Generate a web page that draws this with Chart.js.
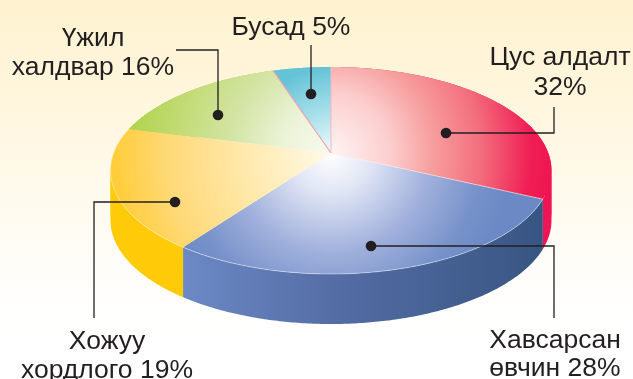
<!DOCTYPE html>
<html>
<head>
<meta charset="utf-8">
<title>Pie</title>
<script src="https://cdn.jsdelivr.net/npm/chart.js@4/dist/chart.umd.min.js"></script>
<style>
  html, body { margin: 0; padding: 0; }
  body { width: 633px; height: 379px; overflow: hidden; background: linear-gradient(#fef2cf 0, #fff6df 110px, #fffdf8 260px, #ffffff 330px); }
  canvas { display: block; }
</style>
</head>
<body>
<canvas id="pie" width="633" height="379"></canvas>
<script>
// --- Data ---
const categories = ['Цус алдалт', 'Хавсарсан өвчин', 'Хожуу хордлого', 'Үжил халдвар', 'Бусад'];
const shares = [32, 28, 19, 16, 5];

// --- Slice styling: [distance from apex in px, colour] ---
const topStops = [
  [[0, '#fff4f4'], [60, '#fccdcd'], [100, '#f7a0a0'], [150, '#f36e7d'], [200, '#f01e55'], [225, '#ee1450']],
  [[0, '#ffffff'], [40, '#e1e6f5'], [100, '#a0b0dc'], [150, '#7792ca'], [180, '#6c89c5']],
  [[0, '#fff9ea'], [60, '#ffeebe'], [163, '#fed978'], [215, '#ffcd3c']],
  [[0, '#f7fbef'], [50, '#ebf3d7'], [100, '#d4e4a5'], [150, '#c3dc78'], [205, '#afd24b']],
  [[0, '#f0fafd'], [40, '#aae1eb'], [86, '#64c3d7']],
];
const wallColors = ['#ef1455', null, '#ffcb08', '#afd24b', '#64c3d7'];

// --- Hand-placed callouts: dot, leader path, text lines ---
const callouts = [
  { dot: [446, 133], path: [[554, 133], [554, 107]], lines: [['Цус алдалт', 560, 65], ['32%', 560, 95]] },
  { dot: [371, 246], path: [[554, 246], [554, 318]], lines: [['Хавсарсан', 555, 348], ['өвчин 28%', 555, 376]] },
  { dot: [175, 202], path: [[94, 202], [94, 318]], lines: [['Хожуу', 107, 349], ['хордлого 19%', 107, 378]] },
  { dot: [218, 115], path: [[218, 50], [176, 50]], lines: [['Үжил', 93, 46], ['халдвар 16%', 93, 75]] },
  { dot: [311, 94], path: [[311, 45]], lines: [['Бусад 5%', 291, 35]] },
];

const squash = 2.13;   // rx / ry of the disc
const tilt = 0.169;    // how far the apex sits above the ellipse centre (in ry)
const depth = 50;      // wall height

// Perspective view of the disc: a point on the unit circle goes to a point on
// the ellipse, and the circle's centre lands above the ellipse centre.
function project(arc, angle) {
  const X = Math.cos(angle), Y = Math.sin(angle);
  const d = 1 - tilt * Y;
  return [
    arc.x + arc.outerRadius * squash * X * Math.sqrt(1 - tilt * tilt) / d,
    arc.y + arc.outerRadius * (Y - tilt) / d,
  ];
}

function rimPoints(arc) {
  const pts = [];
  const steps = Math.ceil((arc.endAngle - arc.startAngle) / 0.01);
  for (let i = 0; i <= steps; i++) {
    pts.push(project(arc, arc.startAngle + (arc.endAngle - arc.startAngle) * i / steps));
  }
  return pts;
}

// cut a rim where it turns back horizontally, so each piece of wall is a simple band
function monotonePieces(rim) {
  const pieces = [[rim[0]]];
  let dir = 0;
  for (let i = 1; i < rim.length; i++) {
    const d = Math.sign(rim[i][0] - rim[i - 1][0]);
    if (dir && d && d !== dir) pieces.push([rim[i - 1]]);
    if (d) dir = d;
    pieces[pieces.length - 1].push(rim[i]);
  }
  return pieces;
}

function tracePoly(ctx, pts) {
  ctx.beginPath();
  pts.forEach((p, i) => i ? ctx.lineTo(p[0], p[1]) : ctx.moveTo(p[0], p[1]));
}

const tiltedPie = {
  id: 'tiltedPie',
  beforeDatasetDraw(chart) {
    const ctx = chart.ctx;
    const arcs = chart.getDatasetMeta(0).data;
    const apex = [arcs[0].x, arcs[0].y - arcs[0].outerRadius * tilt];

    // walls first, the top faces cover the back half
    arcs.forEach((arc, i) => {
      if (wallColors[i]) {
        ctx.fillStyle = wallColors[i];
      } else {
        const g = ctx.createLinearGradient(185, 0, 546, 0);
        g.addColorStop(0, '#6c89c5');
        g.addColorStop(0.4, '#556ea6');
        g.addColorStop(1, '#375582');
        ctx.fillStyle = g;
      }
      monotonePieces(rimPoints(arc)).forEach(rim => {
        const low = rim.map(p => [p[0], p[1] + depth]).reverse();
        tracePoly(ctx, rim.concat(low));
        ctx.closePath();
        ctx.fill();
      });
    });

    // top faces
    arcs.forEach((arc, i) => {
      const rim = rimPoints(arc);
      const stops = topStops[i];
      const r = stops[stops.length - 1][0];
      const g = ctx.createRadialGradient(apex[0], apex[1], 0, apex[0], apex[1], r);
      stops.forEach(s => g.addColorStop(s[0] / r, s[1]));
      ctx.fillStyle = g;
      tracePoly(ctx, [apex].concat(rim));
      ctx.closePath();
      ctx.fill();
    });

    // thin seams
    const seam = (i, color, width) => {
      ctx.strokeStyle = color;
      ctx.lineWidth = width;
      tracePoly(ctx, rimPoints(arcs[i]));
      ctx.stroke();
    };
    seam(1, 'rgba(255,255,255,0.55)', 0.8);
    seam(2, 'rgba(255,240,190,0.7)', 0.8);

    const spoke = (angle, color, width) => {
      const p = project(arcs[0], angle);
      ctx.strokeStyle = color;
      ctx.lineWidth = width;
      tracePoly(ctx, [apex, p]);
      ctx.stroke();
    };
    spoke(arcs[4].startAngle, '#f0a0b0', 1.2);
    spoke(arcs[4].endAngle, '#f5b8c0', 1);
    spoke(arcs[1].startAngle, 'rgba(255,235,235,0.7)', 0.8);

    return false;
  },
  afterDraw(chart) {
    const ctx = chart.ctx;
    ctx.save();
    ctx.strokeStyle = '#231f20';
    ctx.fillStyle = '#231f20';
    ctx.lineWidth = 1.3;
    ctx.textAlign = 'center';
    ctx.font = '26.5px "Liberation Sans"';
    callouts.forEach(c => {
      tracePoly(ctx, [c.dot].concat(c.path));
      ctx.stroke();
      ctx.beginPath();
      ctx.arc(c.dot[0], c.dot[1], 5.3, 0, Math.PI * 2);
      ctx.fill();
      c.lines.forEach(l => ctx.fillText(l[0], l[1], l[2]));
    });
    ctx.restore();
  },
};

new Chart(document.getElementById('pie'), {
  type: 'pie',
  data: {
    labels: categories,
    datasets: [{ data: shares, backgroundColor: wallColors, borderWidth: 0 }],
  },
  options: {
    responsive: false,
    animation: false,
    layout: { padding: { top: 67, bottom: 105, left: 29, right: 0 } },
    plugins: { legend: { display: false }, tooltip: { enabled: false } },
  },
  plugins: [tiltedPie],
});
</script>
</body>
</html>
